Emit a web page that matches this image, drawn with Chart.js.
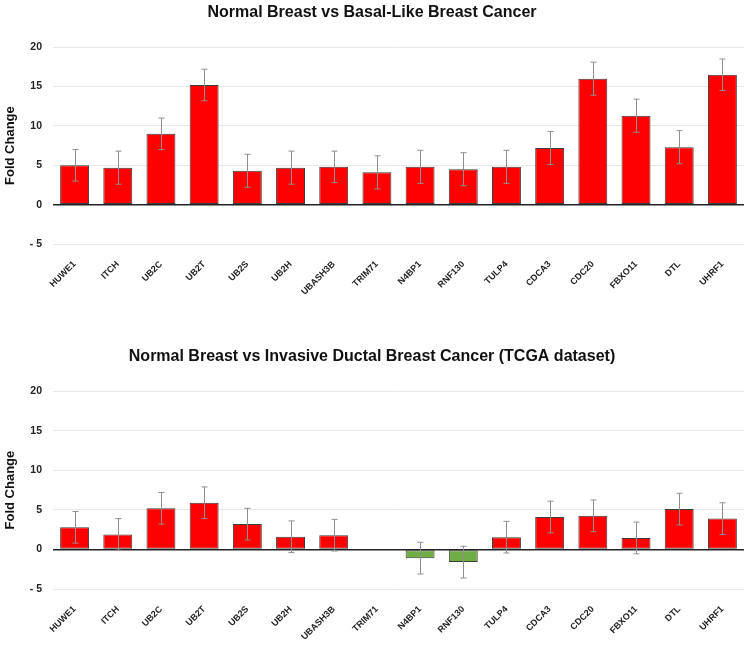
<!DOCTYPE html>
<html>
<head>
<meta charset="utf-8">
<script src="https://cdn.jsdelivr.net/npm/chart.js@4/dist/chart.umd.min.js"></script>
<style>
  body { margin: 0; background: #fff; }
  canvas { display: block; }
</style>
</head>
<body>
<canvas id="basalChart" width="750" height="320"></canvas>
<canvas id="tcgaChart" width="750" height="325"></canvas>
<script>
const genes = ['HUWE1', 'ITCH', 'UB2C', 'UB2T', 'UB2S', 'UB2H', 'UBASH3B', 'TRIM71',
  'N4BP1', 'RNF130', 'TULP4', 'CDCA3', 'CDC20', 'FBXO11', 'DTL', 'UHRF1'];

const basalValues = [5.0, 4.7, 9.0, 15.2, 4.3, 4.7, 4.8, 4.1, 4.8, 4.5, 4.8, 7.2, 16.0, 11.3, 7.3, 16.5];
const basalErrors = [2.0, 2.1, 2.0, 2.0, 2.1, 2.1, 2.0, 2.1, 2.1, 2.1, 2.1, 2.1, 2.1, 2.1, 2.1, 2.0];

const tcgaValues = [2.8, 1.9, 5.2, 5.9, 3.2, 1.6, 1.8, 0, -1.1, -1.6, 1.55, 4.1, 4.25, 1.45, 5.1, 3.9];
const tcgaErrors = [2.0, 2.0, 2.0, 2.0, 2.0, 2.0, 2.0, null, 2.0, 2.0, 2.0, 2.0, 2.0, 2.0, 2.0, 2.0];

const yTicks = [-5, 0, 5, 10, 15, 20];

// draws the grey error whiskers through the chart's own scales
const errorBars = {
  id: 'errorBars',
  afterDatasetsDraw(chart, args, opts) {
    const ctx = chart.ctx;
    const y = chart.scales.y;
    const meta = chart.getDatasetMeta(0);
    const values = chart.data.datasets[0].data;
    ctx.save();
    ctx.strokeStyle = '#8f8f8f';
    ctx.lineWidth = 1;
    meta.data.forEach((bar, i) => {
      const e = opts.errors[i];
      if (e == null) return;
      const x = Math.round(bar.x) + 0.5;
      const top = y.getPixelForValue(values[i] + e);
      const bot = y.getPixelForValue(values[i] - e);
      ctx.beginPath();
      ctx.moveTo(x, top); ctx.lineTo(x, bot);
      ctx.moveTo(x - 3, top); ctx.lineTo(x + 3, top);
      ctx.moveTo(x - 3, bot); ctx.lineTo(x + 3, bot);
      ctx.stroke();
    });
    ctx.restore();
  }
};

function makeChart(id, title, values, errors, titlePad, xHeight) {
  const ctx = document.getElementById(id).getContext('2d');
  return new Chart(ctx, {
    type: 'bar',
    data: {
      labels: genes,
      datasets: [{
        data: values,
        backgroundColor: c => c.raw < 0 ? '#70ad47' : '#ff0000',
        borderColor: '#3c3c3c',
        borderWidth: c => c.raw === 0 ? 0 : 1,
        borderSkipped: false,
        barPercentage: 0.67,
        categoryPercentage: 1
      }]
    },
    plugins: [errorBars],
    options: {
      responsive: false,
      animation: false,
      layout: { padding: { left: 0, right: 6, top: 0, bottom: 0 } },
      plugins: {
        legend: { display: false },
        tooltip: { enabled: false },
        title: {
          display: true,
          text: title,
          color: '#111',
          font: { family: 'Liberation Sans, Arial, sans-serif', size: 16, weight: 'bold' },
          padding: titlePad
        },
        errorBars: { errors: errors }
      },
      scales: {
        x: {
          grid: { display: false },
          border: { display: false },
          ticks: {
            color: '#222',
            minRotation: 45,
            maxRotation: 45,
            autoSkip: false,
            padding: 7,
            font: { family: 'Liberation Sans, Arial, sans-serif', size: 9, weight: 'bold' }
          },
          afterFit: s => { s.height = xHeight; }
        },
        y: {
          min: -5,
          max: 20,
          afterBuildTicks: s => { s.ticks = yTicks.map(v => ({ value: v })); },
          border: { display: false },
          grid: {
            color: c => c.tick && c.tick.value === 0 ? '#222' : '#e8e8e8',
            lineWidth: c => c.tick && c.tick.value === 0 ? 1.5 : 1,
            drawTicks: false
          },
          ticks: {
            color: '#222',
            padding: 11,
            font: { family: 'Liberation Sans, Arial, sans-serif', size: 10.5, weight: 'bold' },
            callback: v => v < 0 ? '- ' + Math.abs(v) : String(v)
          },
          title: {
            display: true,
            text: 'Fold Change',
            color: '#111',
            padding: { top: 3, bottom: 0 },
            font: { family: 'Liberation Sans, Arial, sans-serif', size: 13, weight: 'bold' }
          },
          afterFit: s => { s.width = 53; }
        }
      }
    }
  });
}

makeChart('basalChart', 'Normal Breast vs Basal-Like Breast Cancer',
  basalValues, basalErrors, { top: 3, bottom: 25 }, 76);
makeChart('tcgaChart', 'Normal Breast vs Invasive Ductal Breast Cancer (TCGA dataset)',
  tcgaValues, tcgaErrors, { top: 27, bottom: 25 }, 56);
</script>
</body>
</html>
